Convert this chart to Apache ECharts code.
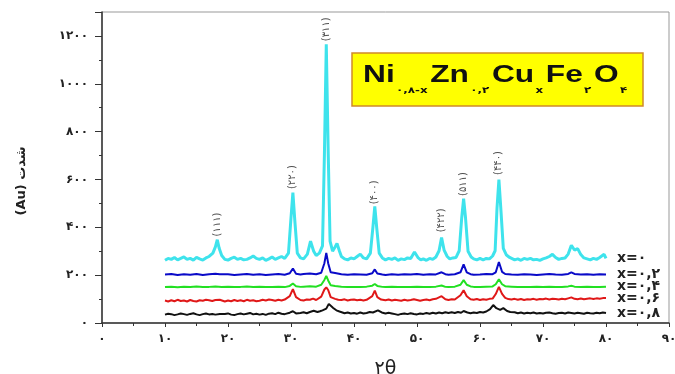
<!DOCTYPE html>
<html>
<head>
<meta charset="utf-8">
<script src="https://cdn.jsdelivr.net/npm/echarts@6/dist/echarts.min.js"></script>
<style>
html,body{margin:0;padding:0;background:#fff;}
#chart{width:675px;height:374px;}
</style>
</head>
<body>
<div id="chart"></div>
<script>
// ---- data ----
var xTickLabels = ['۰','۱۰','۲۰','۳۰','۴۰','۵۰','۶۰','۷۰','۸۰','۹۰'];
var yTickLabels = ['۰','۲۰۰','۴۰۰','۶۰۰','۸۰۰','۱۰۰۰','۱۲۰۰'];
var seriesNames = ['x=۰','x=۰,۲','x=۰,۴','x=۰,۶','x=۰,۸'];

var cyanData = [[10,262],[10.5,270],[11,266],[11.5,274],[12,264],[12.5,270],[13,276],[13.5,266],[14,270],[14.5,263],[15,274],[15.5,268],[16,263],[16.5,272],[17,278],[17.6,292],[18.0,318],[18.3,348],[18.6,312],[19.0,282],[19.5,266],[20,263],[20.5,270],[21,275],[21.5,266],[22,270],[22.5,264],[23,266],[23.5,272],[24,280],[24.5,270],[25,266],[25.5,272],[26,262],[26.5,268],[27,276],[27.5,266],[28,272],[28.5,278],[29,270],[29.6,292],[30.0,440],[30.3,545],[30.6,430],[31,292],[31.5,272],[32,268],[32.6,288],[33.1,342],[33.6,300],[34,282],[34.5,292],[35.0,322],[35.3,700],[35.6,1165],[35.9,720],[36.2,342],[36.6,300],[37.0,318],[37.3,333],[37.7,300],[38,278],[38.5,268],[39,264],[39.5,272],[40,268],[40.5,278],[41.0,288],[41.5,272],[42,268],[42.6,292],[43.0,400],[43.3,487],[43.6,400],[44.0,292],[44.5,272],[45,264],[45.5,270],[46,266],[46.5,272],[47,262],[47.5,268],[48,265],[48.5,272],[49,270],[49.6,297],[50.2,272],[50.6,264],[51,268],[51.5,262],[52,270],[52.5,266],[53,276],[53.5,302],[53.9,357],[54.3,305],[54.8,278],[55.2,268],[55.7,272],[56.2,274],[56.7,302],[57.1,440],[57.4,520],[57.7,440],[58.1,300],[58.6,276],[59,268],[59.5,264],[60,270],[60.5,264],[61,270],[61.5,268],[62,280],[62.4,302],[62.7,480],[63.0,599],[63.3,480],[63.7,312],[64.2,284],[64.7,274],[65,270],[65.5,264],[66,268],[66.5,262],[67,270],[67.5,266],[68,270],[68.5,264],[69,266],[69.5,262],[70,268],[70.5,272],[71,278],[71.5,287],[72,274],[72.5,266],[73,270],[73.5,272],[74,288],[74.5,325],[75,305],[75.5,311],[76,286],[76.5,272],[77,268],[77.5,264],[78,270],[78.5,266],[79,274],[79.7,287],[80,270]];

var blueData = [[10,203],[11,205],[12,201],[13,204],[14,202],[15,205],[16,201],[17,204],[18,206],[18.3,212],[18.7,204],[19,202],[20,204],[21,201],[22,203],[23,205],[24,202],[25,204],[26,201],[27,203],[28,205],[29,202],[29.8,208],[30.3,228],[30.8,206],[31.5,203],[32,205],[33,207],[34,204],[34.8,210],[35.3,250],[35.6,293],[35.9,250],[36.3,212],[37,209],[38,204],[39,202],[40,204],[41,203],[42,202],[42.9,208],[43.3,224],[43.7,207],[44.5,203],[45,201],[46,204],[47,202],[48,204],[49,203],[50,205],[51,202],[52,204],[53,203],[53.9,212],[54.5,204],[55,202],[56,204],[56.9,212],[57.4,245],[57.9,212],[58.5,204],[59,202],[60,203],[61,205],[62,204],[62.5,212],[63.0,255],[63.5,214],[64,205],[65,203],[66,202],[67,204],[68,203],[69,201],[70,203],[71,205],[72,203],[73,202],[74,205],[74.5,212],[75,205],[76,203],[77,204],[78,202],[79,204],[80,203]];

var greenData = [[10,150],[11,152],[12,149],[13,152],[14,150],[15,153],[16,150],[17,151],[18,153],[18.3,156],[19,150],[20,152],[21,150],[22,151],[23,153],[24,150],[25,152],[26,150],[27,151],[28,152],[29,150],[29.8,155],[30.3,165],[30.8,154],[31.5,151],[32,152],[33,154],[34,152],[34.8,160],[35.3,180],[35.6,197],[35.9,178],[36.3,158],[37,155],[38,152],[39,150],[40,151],[41,150],[42,152],[42.9,156],[43.3,163],[43.7,155],[44.5,151],[45,150],[46,152],[47,150],[48,151],[49,150],[50,152],[51,150],[52,151],[53,152],[53.9,157],[54.5,151],[55,150],[56,152],[56.9,160],[57.4,179],[57.9,160],[58.5,153],[59,151],[60,150],[61,152],[62,153],[62.5,162],[63.0,183],[63.5,162],[64,154],[65,152],[66,150],[67,151],[68,150],[69,152],[70,150],[71,152],[72,151],[73,150],[74,153],[74.5,156],[75,152],[76,150],[77,152],[78,151],[79,150],[80,152]];

var redData = [[10,94],[10.5,90],[11,95],[11.5,91],[12,97],[12.5,92],[13,94],[13.5,90],[14,96],[14.5,92],[15,90],[15.5,95],[16,93],[16.5,97],[17,95],[17.5,92],[18,96],[18.3,103],[18.7,97],[19,93],[19.5,90],[20,94],[20.5,91],[21,96],[21.5,92],[22,95],[22.5,91],[23,97],[23.5,93],[24,95],[24.5,91],[25,93],[25.5,97],[26,94],[26.5,98],[27,96],[27.5,93],[28,97],[28.5,94],[29,98],[29.8,112],[30.3,142],[30.8,108],[31.5,96],[32,94],[32.5,98],[33,97],[33.5,102],[34,96],[34.8,110],[35.3,140],[35.6,149],[35.9,138],[36.3,108],[37,101],[37.5,97],[38,96],[38.5,99],[39,94],[39.5,97],[40,98],[40.5,95],[41,97],[41.5,94],[42,97],[42.9,112],[43.3,135],[43.7,108],[44.3,98],[45,95],[45.5,98],[46,94],[46.5,97],[47,95],[47.5,93],[48,97],[48.5,94],[49,96],[49.5,99],[50,96],[50.5,93],[51,96],[51.5,98],[52,95],[52.5,99],[53,101],[53.9,112],[54.5,99],[55,96],[55.5,99],[56,98],[56.9,116],[57.4,137],[57.9,112],[58.5,99],[59,97],[59.5,100],[60,96],[60.5,99],[61,97],[61.5,101],[62,102],[62.5,121],[63.0,151],[63.5,122],[64,105],[64.5,100],[65,98],[65.5,101],[66,97],[66.5,100],[67,96],[67.5,99],[68,98],[68.5,101],[69,97],[69.5,100],[70,99],[70.5,102],[71,98],[71.5,101],[72,100],[72.5,98],[73,101],[73.5,99],[74,103],[74.5,107],[75,101],[75.5,99],[76,102],[76.5,99],[77,101],[77.5,103],[78,100],[78.5,103],[79,101],[79.5,104],[80,104]];

var blackData = [[10,35],[10.5,39],[11,37],[11.5,33],[12,36],[12.5,40],[13,37],[13.5,34],[14,38],[14.5,41],[15,36],[15.5,33],[16,37],[16.5,40],[17,36],[17.5,38],[18,35],[18.3,43],[18.7,38],[19,34],[19.5,38],[20,40],[20.5,35],[21,33],[21.5,37],[22,40],[22.5,36],[23,39],[23.5,42],[24,36],[24.5,39],[25,35],[25.5,38],[26,34],[26.5,39],[27,41],[27.5,37],[28,43],[28.5,39],[29,37],[29.8,43],[30.3,49],[30.8,40],[31.5,42],[32,45],[32.5,41],[33,46],[33.6,51],[34.2,46],[34.6,49],[35,53],[35.6,60],[36.0,80],[36.3,85],[36.7,63],[37.2,53],[37.7,48],[38,45],[38.5,41],[39,44],[39.5,40],[40,42],[40.5,39],[41,44],[41.5,40],[42,42],[42.5,46],[43,44],[43.8,53],[44.4,44],[45,40],[45.5,43],[46,40],[46.5,37],[47,34],[47.5,38],[48,40],[48.5,37],[49,41],[49.5,38],[50,36],[50.5,40],[51,38],[51.5,42],[52,39],[52.5,43],[53,40],[53.5,44],[54,41],[54.5,45],[55,42],[55.5,45],[56,42],[56.5,46],[57,43],[57.4,50],[58,44],[58.5,41],[59,44],[59.5,42],[60,46],[60.5,44],[61,48],[61.6,58],[62.1,75],[62.6,62],[63.2,55],[63.7,62],[64.3,50],[64.8,46],[65,43],[65.5,45],[66,41],[66.5,44],[67,40],[67.5,43],[68,41],[68.5,44],[69,40],[69.5,42],[70,40],[70.5,43],[71,44],[71.5,41],[72,39],[72.5,42],[73,43],[73.5,40],[74,44],[74.5,42],[75,40],[75.5,43],[76,41],[76.5,39],[77,43],[77.5,41],[78,40],[78.5,43],[79,41],[79.5,44],[80,42]];

var peakLabels = ['(۱۱۱)','(۲۲۰)','(۳۱۱)','(۴۰۰)','(۴۲۲)','(۵۱۱)','(۴۴۰)'];
var peakLabelX = [18.3, 30.3, 35.6, 43.3, 53.9, 57.4, 63.0];
var peakLabelY = [412, 610, 1228, 546, 429, 581, 669];

// ---- chart ----
var chart = echarts.init(document.getElementById('chart'), null, {renderer:'canvas'});
var colors = ['#3ee3ec','#0a0ac8','#22e022','#e01818','#111111'];
var datasets = [cyanData, blueData, greenData, redData, blackData];
var faFont = '"DejaVu Sans", sans-serif';

var series = datasets.map(function(d, i){
  return {
    type:'line', name: seriesNames[i], data: d, showSymbol:false, symbol:'none',
    lineStyle:{color:colors[i], width: i===0 ? 3 : 2},
    itemStyle:{color:colors[i]},
    z: 10 - i,
    endLabel:{show:true, formatter:'{a}', distance:11, color:'#222', fontWeight:'bold', fontSize:14, fontFamily: faFont}
  };
});
series.push({
  type:'scatter', symbolSize:0, z:20,
  data: peakLabels.map(function(t,i){ return [peakLabelX[i], peakLabelY[i], t]; }),
  label:{show:true, position:'inside', rotate:90, formatter:function(p){return p.data[2];}, color:'#222', fontSize:10, fontFamily: faFont}
});

var option = {
  animation:false,
  backgroundColor:'#fff',
  grid:{left:102, right:6, top:12, bottom:51, show:true, borderColor:'#999', borderWidth:1, containLabel:false, outerBoundsMode:'none'},
  xAxis:{
    type:'value', min:0, max:90, interval:10,
    name:'۲θ', nameLocation:'middle', nameGap:37,
    nameTextStyle:{fontSize:19, color:'#222', fontFamily: faFont},
    axisLine:{show:true, onZero:false, lineStyle:{color:'#333', width:1.5}},
    axisTick:{show:true, length:4, lineStyle:{color:'#333'}},
    minorTick:{show:true, splitNumber:2, length:3, lineStyle:{color:'#333'}},
    splitLine:{show:false},
    axisLabel:{margin:10, fontSize:12, fontWeight:'bold', color:'#222', fontFamily: faFont, hideOverlap:false,
      formatter:function(v){ return xTickLabels[Math.round(v/10)]; }}
  },
  yAxis:{
    type:'value', min:0, max:1300, interval:200,
    axisLine:{show:true, onZero:false, lineStyle:{color:'#333', width:1.5}},
    axisTick:{show:true, length:7, lineStyle:{color:'#333'}},
    minorTick:{show:true, splitNumber:2, length:3, lineStyle:{color:'#333'}},
    splitLine:{show:false},
    axisLabel:{margin:14, fontSize:12, fontWeight:'bold', color:'#222', fontFamily: faFont, showMaxLabel:false,
      formatter:function(v){ var k = Math.round(v/200); return (v % 200 === 0 && k < yTickLabels.length) ? yTickLabels[k] : ''; }}
  },
  graphic:[
    {type:'rect', shape:{x:352, y:53, width:291, height:53}, style:{fill:'#ffff00', stroke:'#d08a2a', lineWidth:1.5}, z:50},
    {type:'text', x:363, y:55, scaleX:1.32, z:51, style:{
      text:'{m|Ni}{s|۰,۸-x}{m|Zn}{s|۰,۲}{m|Cu}{s|x}{m|Fe}{s|۲}{m|O}{s|۴}',
      verticalAlign:'top', align:'left',
      rich:{
        m:{fontSize:24, fontWeight:'bold', fontFamily:'"Liberation Sans", Arial, sans-serif', fill:'#111', lineHeight:40},
        s:{fontSize:9, fontWeight:'bold', fontFamily: faFont, fill:'#111', lineHeight:3, verticalAlign:'bottom', padding:[0,2,0,1]}
      }}},
    {type:'text', x:22, y:181, rotation:Math.PI/2, z:50, style:{
      text:'(Au) شدت', align:'center', verticalAlign:'middle', fill:'#222',
      font:'bold 13px "DejaVu Sans", sans-serif'}}
  ],
  series: series
};
chart.setOption(option);
</script>
</body>
</html>
